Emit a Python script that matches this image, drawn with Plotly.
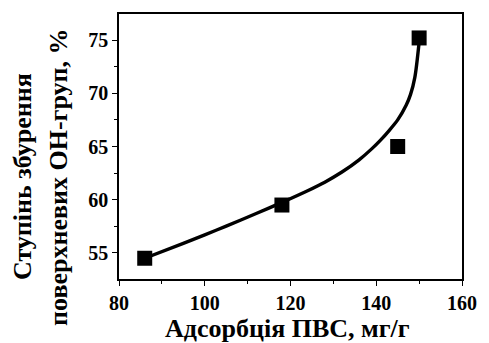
import plotly.graph_objects as go

# measured points
x_pts = [86, 118, 145, 150]
y_pts = [54.5, 59.5, 65.0, 75.2]

# fitted curve
x_fit = [86, 95, 100, 105, 112, 118, 124, 128, 132, 136, 139, 141, 143, 145, 147, 148, 149, 150]
y_fit = [54.5, 55.9, 56.7, 57.52, 58.7, 59.75, 60.85, 61.65, 62.6, 63.75, 64.8, 65.6, 66.5, 67.5, 68.9, 69.9, 71.5, 74.8]

x_ticks = [80, 100, 120, 140, 160]
y_ticks = [55, 60, 65, 70, 75]

x_title = "Адсорбція ПВС, мг/г"
y_title_1 = "Ступінь збурення"
y_title_2 = "поверхневих ОН-груп, %"

FONT = "Liberation Serif"

fig = go.Figure()
fig.add_trace(go.Scatter(x=x_fit, y=y_fit, mode="lines", line=dict(color="black", width=3.4, shape="spline", smoothing=0.8),
                         showlegend=False, hoverinfo="skip"))
fig.add_trace(go.Scatter(x=x_pts, y=y_pts, mode="markers",
                         marker=dict(symbol="square", size=15, color="black"), showlegend=False))

tickfont = dict(family=FONT, size=20, color="black", weight="bold")
axis_common = dict(showgrid=False, zeroline=False, showline=True, linecolor="black", linewidth=1.5,
                   mirror=True, ticks="outside", ticklen=5, tickwidth=1.3, tickcolor="black",
                   tickfont=tickfont)

fig.update_xaxes(range=[80, 160], tickvals=x_ticks, ticktext=[str(v) for v in x_ticks],
                 minor=dict(ticks="outside", ticklen=3, tickwidth=1.3, tickcolor="black", dtick=10),
                 **axis_common)
fig.update_yaxes(range=[52.55, 77.45], tickvals=y_ticks, ticktext=[str(v) for v in y_ticks],
                 minor=dict(ticks="outside", ticklen=3, tickwidth=1.3, tickcolor="black", dtick=2.5),
                 **axis_common)

fig.update_layout(
    width=489, height=343,
    margin=dict(l=119, r=16, t=14, b=64),
    plot_bgcolor="white", paper_bgcolor="white",
    font=dict(family=FONT, color="black"),
    annotations=[
        dict(text="<b>" + x_title + "</b>", xref="paper", yref="paper", x=0.49, y=-0.185,
             xanchor="center", yanchor="middle", showarrow=False, font=dict(family=FONT, size=26)),
        dict(text="<b>" + y_title_1 + "</b>", xref="paper", yref="paper", x=-0.2797, y=0.385,
             xanchor="center", yanchor="middle", textangle=-90, showarrow=False,
             font=dict(family=FONT, size=26)),
        dict(text="<b>" + y_title_2 + "</b>", xref="paper", yref="paper", x=-0.175, y=0.385,
             xanchor="center", yanchor="middle", textangle=-90, showarrow=False,
             font=dict(family=FONT, size=26)),
    ],
)

fig.write_html("out.html")
